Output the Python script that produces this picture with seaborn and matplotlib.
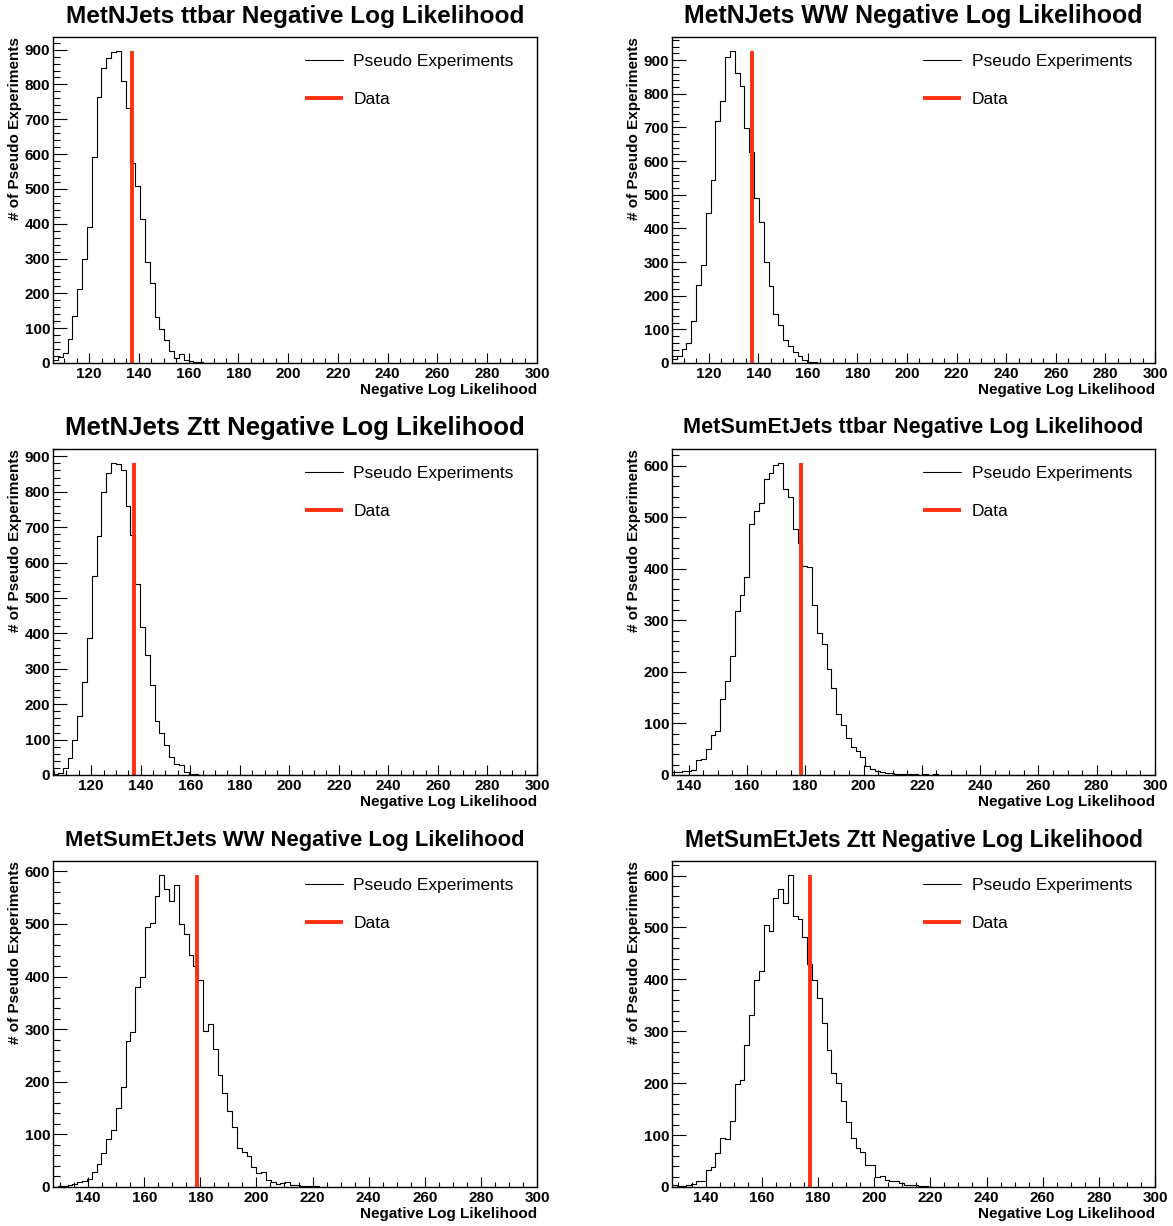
"""
Pseudo-experiment negative log likelihood distributions vs. data
Six panels, ROOT-like look rebuilt with seaborn/matplotlib
"""

import numpy as np
import pandas as pd
import matplotlib
matplotlib.use('Agg')
import matplotlib.pyplot as plt
import seaborn as sns
from matplotlib.ticker import MultipleLocator


sns.set_style("ticks")
plt.rcParams['font.family'] = ['Liberation Sans', 'DejaVu Sans']
plt.rcParams['font.weight'] = 'bold'
plt.rcParams['axes.labelweight'] = 'bold'
for key in ['text.color', 'axes.labelcolor', 'xtick.color', 'ytick.color', 'axes.edgecolor']:
    plt.rcParams[key] = 'black'


# ---- data ----
titles = [
    'MetNJets ttbar Negative Log Likelihood',
    'MetNJets WW Negative Log Likelihood',
    'MetNJets Ztt Negative Log Likelihood',
    'MetSumEtJets ttbar Negative Log Likelihood',
    'MetSumEtJets WW Negative Log Likelihood',
    'MetSumEtJets Ztt Negative Log Likelihood',
]

# histogram range: 100 bins from the lower edge up to 300
range_low = [105.5, 105.2, 104.6, 134.3, 127.5, 128.0]
range_high = 300.0
n_bins = 100

# bin contents from the first bin on (remaining bins are empty)
counts_njets_ttbar = [10, 18, 28, 69, 134, 213, 298, 392, 593, 764, 848, 877, 894, 896,
                      810, 732, 573, 507, 413, 291, 230, 133, 99, 67, 34, 14, 27, 10, 5,
                      3, 2, 1, 1]
counts_njets_ww = [12, 20, 42, 59, 126, 233, 291, 446, 543, 719, 778, 909, 927, 862, 823,
                   699, 627, 491, 418, 299, 230, 146, 114, 67, 50, 32, 22, 10, 4, 2, 1]
counts_njets_ztt = [2, 7, 21, 49, 98, 167, 264, 388, 561, 674, 798, 852, 881, 878, 860,
                    761, 679, 539, 417, 338, 254, 153, 120, 85, 52, 32, 28, 9, 4, 2, 1]
counts_sumet_ttbar = [5, 5, 7, 7, 10, 29, 31, 50, 77, 86, 148, 183, 230, 319, 349, 384,
                      487, 512, 528, 575, 586, 602, 605, 555, 539, 477, 450, 405, 403,
                      330, 276, 255, 205, 168, 119, 97, 71, 54, 47, 34, 18, 12, 7, 5, 3,
                      3, 2, 2, 1, 1, 1, 0, 1, 0, 1]
counts_sumet_ww = [0, 1, 2, 3, 6, 9, 12, 16, 28, 43, 65, 92, 108, 151, 190, 277, 294, 380,
                   400, 494, 501, 554, 593, 566, 543, 575, 500, 480, 441, 420, 394, 296,
                   310, 263, 213, 178, 144, 114, 75, 66, 58, 38, 27, 28, 13, 9, 6, 8, 9,
                   4, 3, 2, 1, 1, 1]
counts_sumet_ztt = [3, 2, 2, 4, 6, 11, 12, 33, 38, 65, 94, 92, 128, 199, 207, 274, 331,
                    399, 416, 504, 493, 556, 574, 547, 601, 523, 517, 481, 430, 399, 364,
                    315, 263, 220, 200, 166, 126, 94, 75, 67, 42, 42, 19, 21, 13, 11, 11,
                    8, 3, 3, 3, 1, 1]

all_counts = [counts_njets_ttbar, counts_njets_ww, counts_njets_ztt,
              counts_sumet_ttbar, counts_sumet_ww, counts_sumet_ztt]

# observed negative log likelihood of the data
data_nll = [137.1, 137.4, 137.1, 178.7, 178.8, 177.0]


# ---- layout (pixel frame of each pad) ----
W, H = 1173, 1226
col_x = [(53, 537), (672, 1155)]
row_y = [(37, 363), (449, 775), (861, 1187)]
RED = '#ff3010'


def draw_panel(ax, title, counts, low, x_data):
    edges = np.linspace(low, range_high, n_bins + 1)
    df = pd.DataFrame({'nll': edges[:len(counts)] + 0.5 * (edges[1] - edges[0]),
                       'n': counts})
    sns.histplot(data=df, x='nll', weights='n', bins=edges.tolist(), element='step',
                 fill=False, color='black', linewidth=0.8, ax=ax,
                 label='Pseudo Experiments')
    top = max(counts)
    ax.plot([x_data, x_data], [0, top], color=RED, linewidth=2.8, label='Data',
            solid_capstyle='butt')

    ax.set_xlim(low, range_high)
    ax.set_ylim(0, 1.045 * top)
    ax.xaxis.set_major_locator(MultipleLocator(20))
    ax.xaxis.set_minor_locator(MultipleLocator(5))
    ax.yaxis.set_major_locator(MultipleLocator(100))
    ax.yaxis.set_minor_locator(MultipleLocator(20))
    ax.tick_params(axis='both', which='both', direction='in', labelsize=11,
                   width=0.8, top=False, right=False, colors='black')
    ax.tick_params(axis='x', which='major', length=7, pad=3)
    ax.tick_params(axis='x', which='minor', length=3.5)
    ax.tick_params(axis='y', which='major', length=10, pad=2)
    ax.tick_params(axis='y', which='minor', length=5)
    for sp in ax.spines.values():
        sp.set_visible(True)
        sp.set_linewidth(1.0)
        sp.set_color('black')

    ax.set_xlabel('Negative Log Likelihood', loc='right', fontsize=11,
                  fontweight='bold', labelpad=1.5)
    ax.set_ylabel('# of Pseudo Experiments', loc='top', fontsize=11,
                  fontweight='bold', labelpad=2)

    ax.legend(loc='upper left', bbox_to_anchor=(0.52, 0.948), frameon=False,
              borderpad=0, borderaxespad=0, handlelength=2.2, handletextpad=0.6,
              labelspacing=1.33, prop={'weight': 'normal', 'size': 12.5})

    t = ax.text(0.5, 1 + 21 / 326, title, transform=ax.transAxes, ha='center',
                va='center', fontsize=16, fontweight='bold', color='black')
    return t


fig = plt.figure(figsize=(W / 100, H / 100), dpi=100)
title_texts = []
for i, (title, counts, low, xd) in enumerate(zip(titles, all_counts, range_low, data_nll)):
    x0, x1 = col_x[i % 2]
    y0, y1 = row_y[i // 2]
    ax = fig.add_axes([x0 / W, 1 - y1 / H, (x1 - x0) / W, (y1 - y0) / H])
    title_texts.append(draw_panel(ax, title, counts, low, xd))

# ROOT scales each title to the pad width
fig.canvas.draw()
renderer = fig.canvas.get_renderer()
for t in title_texts:
    w = t.get_window_extent(renderer).width
    t.set_fontsize(16 * 458 / w)

fig.savefig('out.png', dpi=100)
plt.close()
